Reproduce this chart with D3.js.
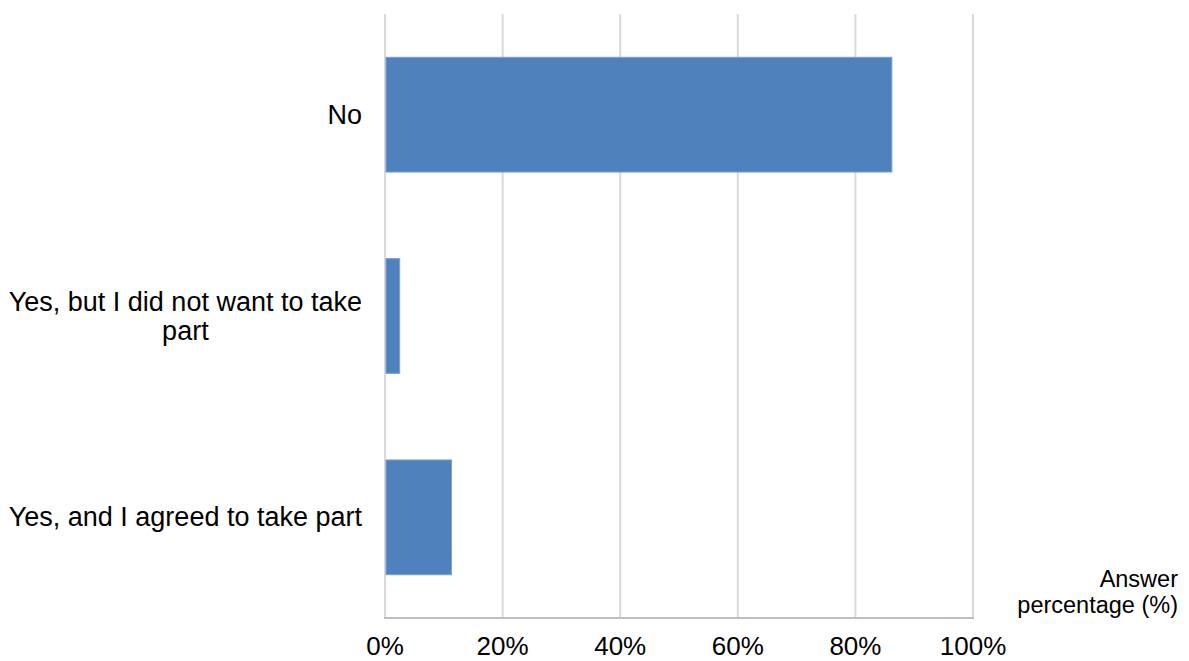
<!DOCTYPE html>
<html>
<head>
<meta charset="utf-8">
<script src="https://cdn.jsdelivr.net/npm/d3@7"></script>
<style>
  html, body { margin: 0; padding: 0; background: #fff; }
  svg { display: block; font-family: "Liberation Sans", Arial, sans-serif; }
</style>
</head>
<body>
<svg id="chart" width="1189" height="661"></svg>
<script>
const categories = ["No", "Yes, but I did not want to take part", "Yes, and I agreed to take part"];
const labelLines = [["No"], ["Yes, but I did not want to take", "part"], ["Yes, and I agreed to take part"]];
const values = [86.2, 2.5, 11.3];
const tickValues = [0, 20, 40, 60, 80, 100];
const axisTitle = ["Answer", "percentage (%)"];

(function () {
const svg = d3.select("#chart");
const plotLeft = 385, plotRight = 973, plotTop = 14, plotBottom = 618;

const x = d3.scaleLinear().domain([0, 100]).range([plotLeft, plotRight]);
const y = d3.scaleBand().domain(categories).range([plotTop, plotBottom]).paddingInner(0.43).paddingOuter(0.215);

// gridlines
svg.append("g").selectAll("line").data(tickValues).join("line")
  .attr("x1", d => x(d)).attr("x2", d => x(d))
  .attr("y1", plotTop).attr("y2", plotBottom)
  .attr("stroke", "#d9d9d9").attr("stroke-width", 2);

// bars
svg.append("g").selectAll("rect").data(categories).join("rect")
  .attr("x", x(0) + 1)
  .attr("y", d => y(d))
  .attr("width", (d, i) => x(values[i]) - x(0) - 1)
  .attr("height", y.bandwidth())
  .attr("fill", "#4f81bd")
  .attr("stroke", "#7ba0d4").attr("stroke-width", 1);

// bottom axis line
svg.append("line")
  .attr("x1", plotLeft - 1).attr("x2", plotRight + 1)
  .attr("y1", plotBottom).attr("y2", plotBottom)
  .attr("stroke", "#bfbfbf").attr("stroke-width", 2);

// x tick labels
svg.append("g").selectAll("text").data(tickValues).join("text")
  .attr("x", d => x(d)).attr("y", 655)
  .attr("text-anchor", "middle")
  .attr("font-size", 26)
  .attr("fill", "#000")
  .text(d => d + "%");

// category labels
const fs = 27, lh = 29;
svg.append("g").selectAll("text").data(categories).join("text")
  .attr("text-anchor", "middle")
  .attr("font-size", fs)
  .attr("fill", "#000")
  .each(function(d, i) {
    const lines = labelLines[i];
    const cy = y(d) + y.bandwidth() / 2;
    const t = d3.select(this);
    const tmp = svg.append("text").attr("font-size", fs).text(lines[0]);
    const w = tmp.node().getComputedTextLength();
    tmp.remove();
    const cx = 362 - w / 2;
    lines.forEach((ln, j) => {
      t.append("tspan")
        .attr("x", cx)
        .attr("y", cy + 9 + (j - (lines.length - 1) / 2) * lh)
        .text(ln);
    });
  });

// axis title
svg.append("text")
  .attr("text-anchor", "end")
  .attr("font-size", 23.5)
  .attr("fill", "#000")
  .selectAll("tspan").data(axisTitle).join("tspan")
  .attr("x", 1178)
  .attr("y", (d, i) => 587 + i * 26)
  .text(d => d);
})();
</script>
</body>
</html>
